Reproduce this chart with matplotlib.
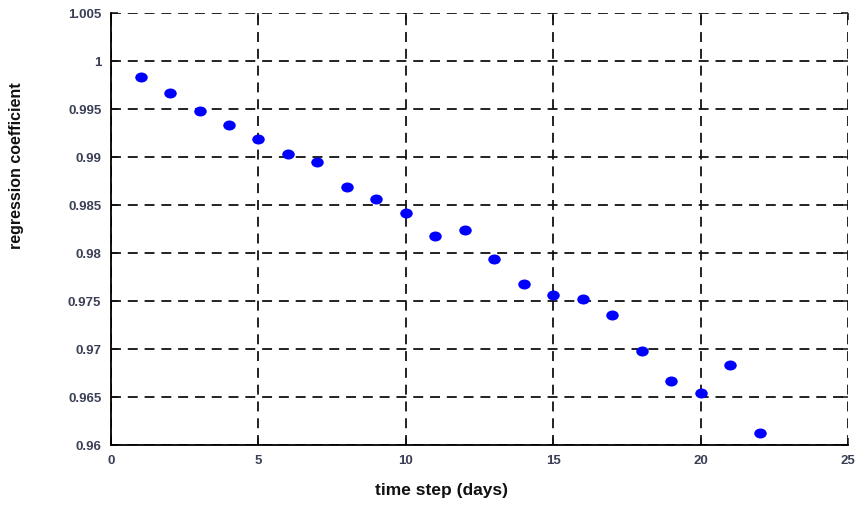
import matplotlib
matplotlib.use("Agg")
import matplotlib.pyplot as plt
from matplotlib.path import Path

days = [1, 2, 3, 4, 5, 6, 7, 8, 9, 10, 11, 12, 13, 14, 15, 16, 17, 18, 19, 20, 21, 22]
coef = [0.9984, 0.9967, 0.9948, 0.9933, 0.9919, 0.9903, 0.9895, 0.9869, 0.9856, 0.9842,
        0.9818, 0.9824, 0.9794, 0.9768, 0.9756, 0.9752, 0.9736, 0.9698, 0.9667, 0.9654,
        0.9684, 0.9613]
xticks = [0, 5, 10, 15, 20, 25]
yticks = [0.96, 0.965, 0.97, 0.975, 0.98, 0.985, 0.99, 0.995, 1.0, 1.005]
ytick_labels = ["0.96", "0.965", "0.97", "0.975", "0.98", "0.985", "0.99", "0.995", "1", "1.005"]

plt.rcParams['font.family'] = ['Liberation Sans', 'DejaVu Sans']
fig = plt.figure(figsize=(8.61, 5.07), dpi=100)
ax = fig.add_axes([0.129, 0.122, 0.856, 0.852])

circ = Path.unit_circle()
ellipse = Path(circ.vertices * [1.25, 1.0], circ.codes)
ax.plot(days, coef, linestyle='none', marker=ellipse, color='#0000ff', markersize=9,
        markeredgewidth=0, zorder=3)
ax.set_xlim(0, 25)
ax.set_ylim(0.96, 1.005)
ax.set_xticks(xticks)
ax.set_yticks(yticks)
ax.set_yticklabels(ytick_labels)
ax.grid(True, color='#111111', linestyle=(0, (5.5, 3.8)), linewidth=1.3)
for s in ['top', 'right']:
    ax.spines[s].set_visible(False)
for s in ['left', 'bottom']:
    ax.spines[s].set_linewidth(1.3)
ax.tick_params(direction='in', length=5, width=1.1, top=True, right=True,
               labelsize=9.5, colors='#111111', pad=7)
for lab in ax.get_xticklabels() + ax.get_yticklabels():
    lab.set_color('#3a3f55')
    lab.set_fontweight('bold')
ax.set_xlabel('time step (days)', fontsize=12.5, fontweight='bold', color='#111111')
ax.set_ylabel('regression coefficient', fontsize=11.5, fontweight='bold', color='#111111')
ax.xaxis.set_label_coords(0.448, -0.088)
ax.yaxis.set_label_coords(-0.118, 0.646)
fig.savefig('out.png', dpi=100)
